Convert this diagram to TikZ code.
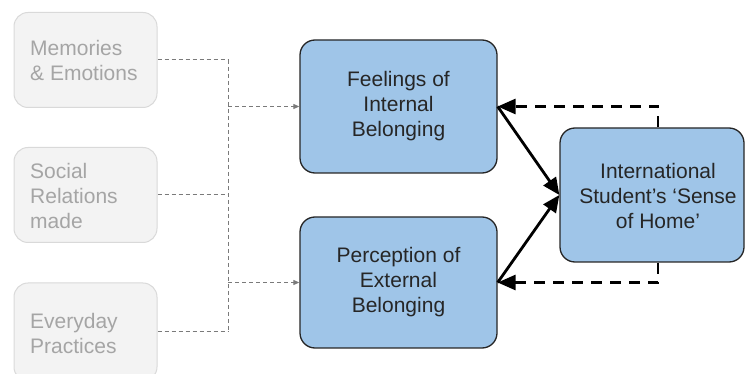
\documentclass[tikz,border=0pt]{standalone}
\usepackage{fontspec}
\setmainfont{Liberation Sans}
\usetikzlibrary{arrows.meta}
\definecolor{bluefill}{HTML}{9FC5E8}
\definecolor{grayfill}{HTML}{F3F3F3}
\definecolor{grayedge}{HTML}{D9D9D9}
\definecolor{graytext}{HTML}{A5A5A5}
\definecolor{grayline}{HTML}{7A7A7A}
\tikzset{
  srcbox/.style={draw=grayedge, fill=grayfill, line width=1pt, rounded corners=14pt,
    minimum width=143pt, minimum height=95pt, inner sep=0pt},
  srctext/.style={text=graytext, align=left, anchor=west, inner sep=0pt,
    font=\fontsize{21}{25}\selectfont},
  bluebox/.style={draw=black!85, fill=bluefill, line width=1.3pt, rounded corners=15pt,
    inner sep=0pt, align=center, font=\fontsize{21}{25}\selectfont, text=black!85},
  grayarrow/.style={draw=grayline, line width=1pt, dash pattern=on 4pt off 3pt,
    -{Triangle[length=6pt,width=5pt]}},
  grayconn/.style={draw=grayline, line width=1pt, dash pattern=on 4pt off 3pt},
  boldarrow/.style={draw=black, line width=2.8pt, -{Triangle[length=17pt,width=15pt]}},
  dasharrow/.style={draw=black, line width=2.8pt, dash pattern=on 11pt off 8pt,
    -{Triangle[length=18pt,width=15pt]}},
}
\begin{document}
\begin{tikzpicture}[x=1pt,y=-1pt]
\useasboundingbox (0,0) rectangle (745,374);
% source boxes
\node[srcbox] (m) at (85.5,60) {};
\node[srctext] (mt) at (30,60.5) {Memories\\\& Emotions};
\node[srcbox] (s) at (85.5,195) {};
\node[srctext] (st) at (30,196) {Social\\Relations\\made};
\node[srcbox, minimum height=98pt] (e) at (85.5,332) {};
\node[srctext] (et) at (30,333) {Everyday\\Practices};
% blue boxes
\node[bluebox, minimum width=197pt, minimum height=133pt] (b1) at (398.5,106.5) {Feelings of\\Internal\\Belonging};
\node[bluebox, minimum width=197pt, minimum height=131pt] (b2) at (398.5,282.5) {Perception of\\External\\Belonging};
\node[bluebox, minimum width=184pt, minimum height=134pt] (b3) at (652,195) {};
\node[align=center, inner sep=0pt, font=\fontsize{21}{25}\selectfont, text=black!85] (b3t) at (658,196) {International\\Student's `Sense\\of Home'};
% junction
\coordinate (j) at (228,195);
\coordinate (h) at (658,195);
\draw[grayconn] (m.east) -- (m.east -| j);
\draw[grayconn] (s.east) -- (s.east -| j);
\draw[grayconn] (e.east) -- (e.east -| j);
\draw[grayconn] (m.east -| j) -- (e.east -| j);
\draw[grayarrow] (b1.west -| j) -- (b1.west);
\draw[grayarrow] (b2.west -| j) -- (b2.west);
% bold arrows
\draw[boldarrow] (b1.east) -- (b3.west);
\draw[boldarrow] (b2.east) -- (b3.west);
% dashed feedback
\draw[dasharrow] (b3.north -| h) |- (b1.east);
\draw[dasharrow] (b3.south -| h) |- (b2.east);
\end{tikzpicture}
\end{document}
